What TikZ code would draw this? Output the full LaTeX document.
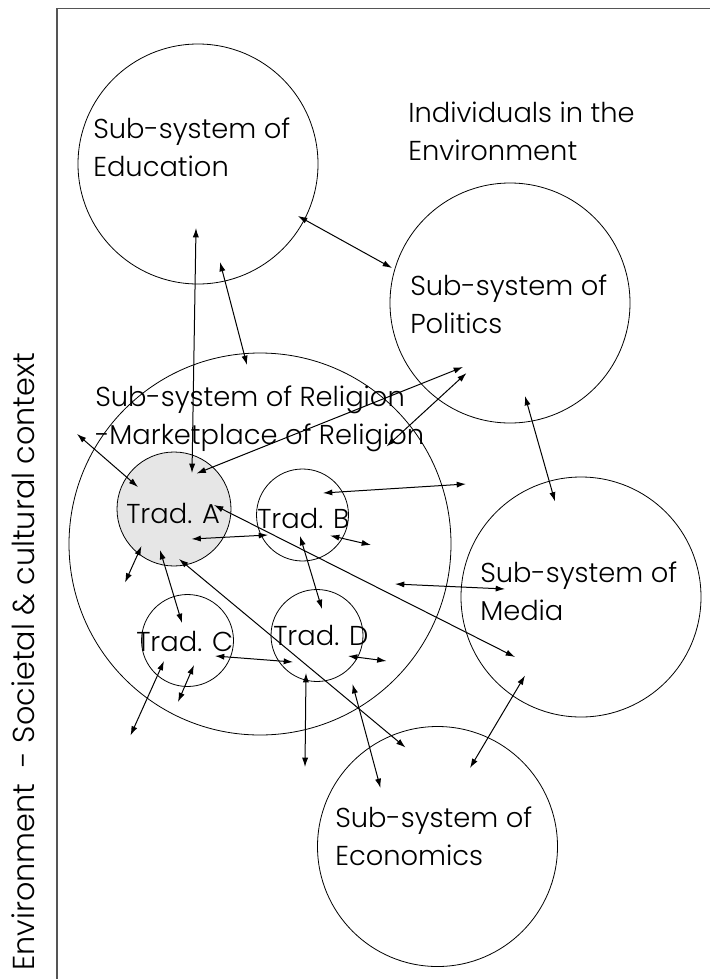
\documentclass[tikz,border=0pt]{standalone}
\usepackage{fontspec}
\IfFontExistsTF{Poppins Light}{\setmainfont{Poppins Light}}{\setmainfont{Poppins}}
\usetikzlibrary{arrows.meta}

\definecolor{tradgray}{RGB}{230,230,230}
\definecolor{framegray}{RGB}{85,85,85}

\begin{document}
\begin{tikzpicture}[
      x=0.75pt, y=-0.75pt,
      sys/.style={circle,draw,line width=0.6pt,minimum size=180pt,inner sep=0pt},
      trad/.style={circle,draw,line width=0.6pt,minimum size=69pt,inner sep=0pt},
      lbl/.style={anchor=base west, inner sep=0pt, align=left, font=\fontsize{20.5}{28.5}\selectfont},
      link/.style={line width=0.75pt, {Latex[length=7pt,width=4.6pt]}-{Latex[length=7pt,width=4.6pt]}}
      ]
      \useasboundingbox (0,0) rectangle (710,979);
      \draw[framegray, line width=1pt] (57,979) -- (57,8.5) -- (710,8.5);

      % sub-systems
      \node[sys] (edu) at (198,164) {};
      \node[sys] (pol) at (510,303) {};
      \node[sys, minimum size=286.5pt] (rel) at (260,544) {};
      \node[sys] (med) at (581,597) {};
      \node[sys] (eco) at (437.5,846.5) {};

      % traditions
      \node[trad, fill=tradgray, minimum size=85.5pt] (tradA) at (174,509) {};
      \node[trad] (tradB) at (302.5,515) {};
      \node[trad] (tradC) at (187.5,640.5) {};
      \node[trad] (tradD) at (317,635.5) {};

      % texts (base = last line)
      \node[lbl] (eduText) at (93,176) {Sub-system of\\Education};
      \node[lbl] (indText) at (408,160) {Individuals in the\\Environment};
      \node[lbl] (polText) at (410,333) {Sub-system of\\Politics};
      \node[lbl] (relText) at (95,444) {Sub-system of Religion\\-Marketplace of Religion};
      \node[lbl] (medText) at (480,620) {Sub-system of\\Media};
      \node[lbl] (ecoText) at (335,865) {Sub-system of\\Economics};
      \node[lbl] (tradAText) at (126,523) {Trad. A};
      \node[lbl] (tradBText) at (257,528) {Trad. B};
      \node[lbl] (tradCText) at (136,651) {Trad. C};
      \node[lbl] (tradDText) at (273,645) {Trad. D};
      \node[lbl, rotate=90, font=\fontsize{22.7}{27}\selectfont] (envText) at (34,971) {Environment\ \ - Societal \& cultural context};

      % free ends in the environment
      \coordinate (envA) at (77,434);
      \coordinate (envB) at (466,484);
      \coordinate (envC) at (371,545);
      \coordinate (envD) at (125,582.5);
      \coordinate (envE) at (386.5,661);
      \coordinate (envF) at (130.5,735.5);
      \coordinate (envG) at (178,702);
      \coordinate (envH) at (305,767);

      % links
      \draw[link] ([shift={(100,52)}]edu.center) -- ([shift={(-118,-35)}]pol.center);
      \draw[link] ([shift={(-2,64)}]edu.center) -- ([shift={(18,-36)}]tradA.center);
      \draw[link] ([shift={(22,98)}]edu.center) -- ([shift={(-13,-179)}]rel.center);
      \draw[link] ([shift={(22.5,-35.5)}]tradA.center) -- ([shift={(-47,64)}]pol.center);
      \draw[link] ([shift={(126.5,-97.5)}]rel.center) -- ([shift={(-43.5,70)}]pol.center);
      \draw[link] (envA) -- ([shift={(-36,-22)}]tradA.center);
      \draw[link] ([shift={(20.5,-22)}]tradB.center) -- (envB);
      \draw[link] ([shift={(17.5,30)}]tradA.center) -- ([shift={(-34.5,20)}]tradB.center);
      \draw[link] ([shift={(27.5,20.5)}]tradB.center) -- (envC);
      \draw[link] ([shift={(40,-4)}]tradA.center) -- ([shift={(-66,60)}]med.center);
      \draw[link] ([shift={(-32.5,37)}]tradA.center) -- (envD);
      \draw[link] ([shift={(-14,41)}]tradA.center) -- ([shift={(-5.5,-17.5)}]tradC.center);
      \draw[link] ([shift={(5,50)}]tradA.center) -- ([shift={(-32,-99)}]eco.center);
      \draw[link] ([shift={(-2.5,21)}]tradB.center) -- ([shift={(5,-26.5)}]tradD.center);
      \draw[link] ([shift={(135,40)}]rel.center) -- ([shift={(-76,-8)}]med.center);
      \draw[link] ([shift={(27.5,15.5)}]tradC.center) -- ([shift={(-24,26.5)}]tradD.center);
      \draw[link] ([shift={(31,20.5)}]tradD.center) -- (envE);
      \draw[link] ([shift={(-23.5,20.5)}]tradC.center) -- (envF);
      \draw[link] ([shift={(6.5,24.5)}]tradC.center) -- (envG);
      \draw[link] ([shift={(-11,37.5)}]tradD.center) -- (envH);
      \draw[link] ([shift={(92.5,140)}]rel.center) -- ([shift={(-57,-58.5)}]eco.center);
      \draw[link] ([shift={(-56,78.5)}]med.center) -- ([shift={(32.5,-78.5)}]eco.center);
      \draw[link] ([shift={(15,93)}]pol.center) -- ([shift={(-26,-95.5)}]med.center);
\end{tikzpicture}
\end{document}
